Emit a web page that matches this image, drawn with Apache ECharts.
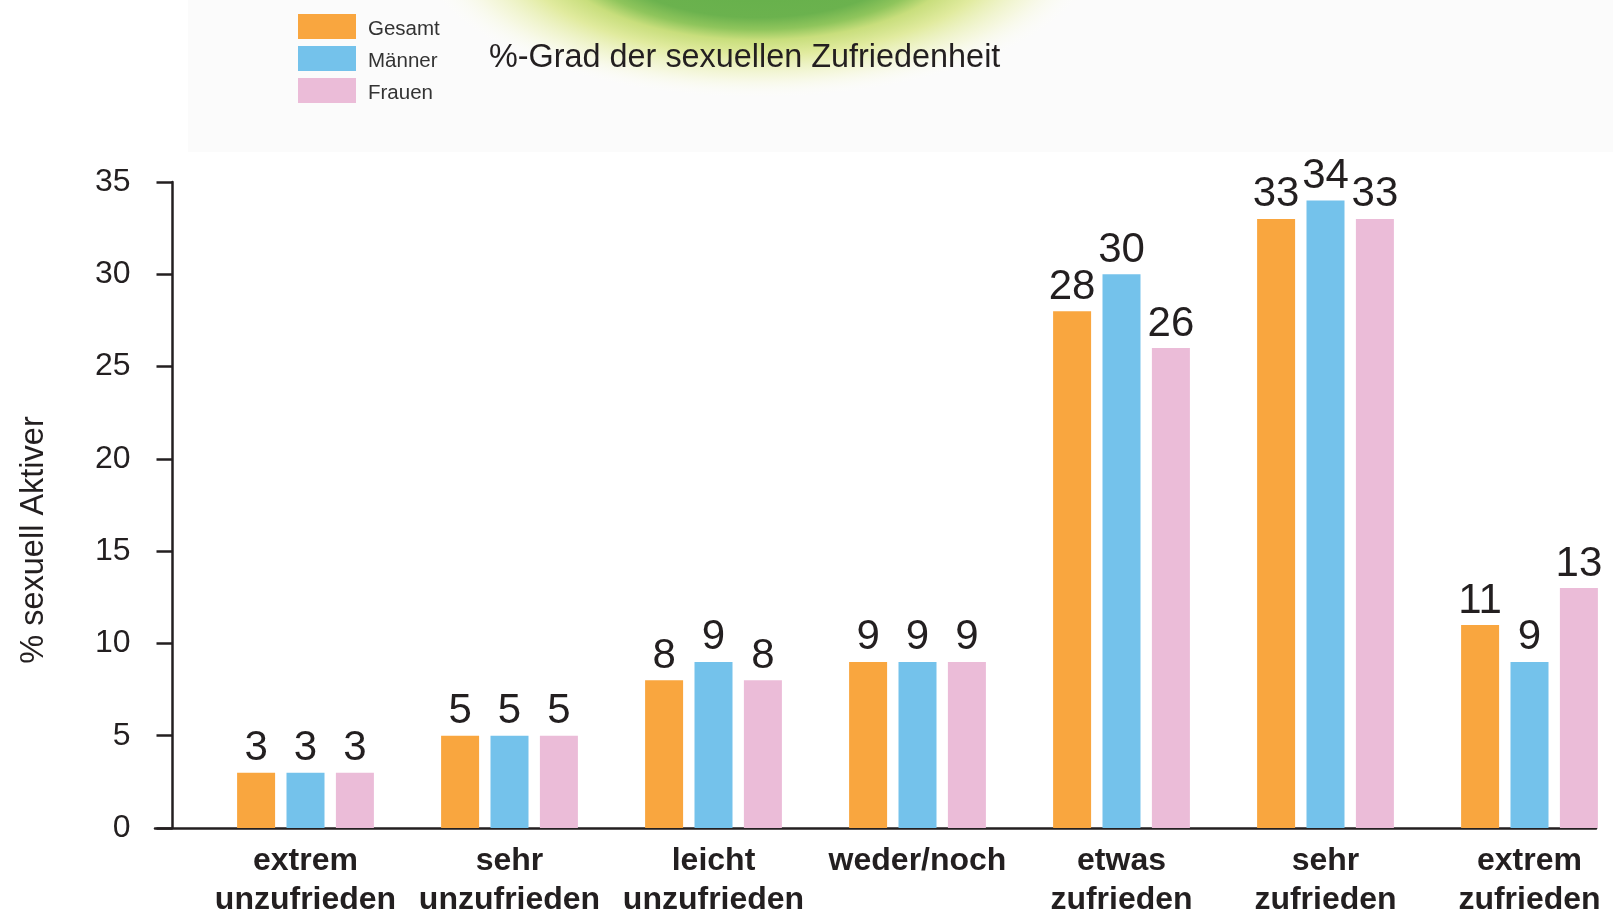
<!DOCTYPE html>
<html>
<head>
<meta charset="utf-8">
<script src="https://cdn.jsdelivr.net/npm/echarts@6/dist/echarts.min.js"></script>
<style>
html,body{margin:0;padding:0;background:#fff;}
#chart{width:1613px;height:913px;}
</style>
</head>
<body>
<div id="chart"></div>
<script>
const categories = ['extrem\nunzufrieden', 'sehr\nunzufrieden', 'leicht\nunzufrieden', 'weder/noch', 'etwas\nzufrieden', 'sehr\nzufrieden', 'extrem\nzufrieden'];
const gesamt = [3, 5, 8, 9, 28, 33, 11];
const maenner = [3, 5, 9, 9, 30, 34, 9];
const frauen = [3, 5, 8, 9, 26, 33, 13];
const seriesNames = ['Gesamt', 'Männer', 'Frauen'];
const titleText = '%-Grad der sexuellen Zufriedenheit';
const yName = '% sexuell Aktiver';

const FONT = '"Liberation Sans", Arial, Helvetica, sans-serif';
const INK = '#231f20';
const colors = ['#f9a63f', '#74c2eb', '#ebbcd8'];

const chart = echarts.init(document.getElementById('chart'));

const labelCfg = {
  show: true, position: 'top', distance: 3,
  fontFamily: FONT, fontSize: 42, color: INK
};

chart.setOption({
  animation: false,
  backgroundColor: '#ffffff',
  color: colors,
  graphic: [
    { type: 'rect', z: -10, silent: true,
      shape: { x: 188, y: 0, width: 1425, height: 152 },
      style: { fill: '#fbfbfb' } },
    { type: 'circle', z: -9, silent: true,
      x: 758, y: -50, scaleX: 2.3, scaleY: 1,
      shape: { cx: 0, cy: 0, r: 150 },
      style: { fill: {
        type: 'radial', x: 0.5, y: 0.5, r: 0.5,
        colorStops: [
          { offset: 0, color: '#5fae47' },
          { offset: 0.45, color: '#6bb24e' },
          { offset: 0.53, color: '#8fc55c' },
          { offset: 0.6, color: '#c8de7c' },
          { offset: 0.7, color: '#e1eb9f' },
          { offset: 0.85, color: 'rgba(243,246,212,0.7)' },
          { offset: 1, color: 'rgba(255,255,255,0)' }
        ] } } }
  ],
  title: {
    text: titleText, left: 489, top: 42, padding: 0,
    textStyle: { fontFamily: FONT, fontSize: 32.4, fontWeight: 'normal', color: INK }
  },
  legend: {
    orient: 'vertical', left: 298, top: 14, padding: 0,
    itemWidth: 58, itemHeight: 25, itemGap: 6.5,
    icon: 'rect',
    formatter: '{t|{name}}',
    textStyle: { fontFamily: FONT, fontSize: 20.5, color: '#333',
      rich: { t: { fontFamily: FONT, fontSize: 20.5, color: '#333', padding: [5, 0, 0, 7] } } },
    data: seriesNames
  },
  grid: [
    { left: 203.5, width: 1428, top: 182, bottom: 85, containLabel: false, outerBoundsMode: 'none' },
    { left: 155, right: 17, top: 182, bottom: 85, containLabel: false, outerBoundsMode: 'none' }
  ],
  xAxis: [
    { type: 'category', gridIndex: 0, data: categories,
      axisLine: { show: false }, axisTick: { show: false },
      axisLabel: { interval: 0, margin: 14, fontFamily: FONT, fontSize: 32, fontWeight: 'bold',
        color: INK, lineHeight: 39 } },
    { type: 'value', gridIndex: 1, min: 0, max: 1,
      axisLine: { show: true, onZero: false, lineStyle: { color: INK, width: 2.5 } },
      axisTick: { show: false }, axisLabel: { show: false }, splitLine: { show: false } }
  ],
  yAxis: [
    { type: 'value', gridIndex: 0, min: 0, max: 35, interval: 5, offset: 31,
      name: yName, nameLocation: 'middle', nameRotate: 90, nameGap: 122,
      nameTextStyle: { fontFamily: FONT, fontSize: 32.5, color: INK, padding: [0, 70, 0, 0] },
      axisLine: { show: true, lineStyle: { color: INK, width: 2.5 } },
      axisTick: { show: true, length: 16, lineStyle: { color: INK, width: 2.5 } },
      axisLabel: { margin: 42, fontFamily: FONT, fontSize: 32, color: INK },
      splitLine: { show: false } },
    { type: 'value', gridIndex: 1, min: 0, max: 35, show: false }
  ],
  series: [
    { name: seriesNames[0], type: 'bar', xAxisIndex: 0, yAxisIndex: 0, data: gesamt,
      barWidth: 38, barGap: '30%', label: labelCfg },
    { name: seriesNames[1], type: 'bar', xAxisIndex: 0, yAxisIndex: 0, data: maenner,
      barWidth: 38, barGap: '30%', label: labelCfg },
    { name: seriesNames[2], type: 'bar', xAxisIndex: 0, yAxisIndex: 0, data: frauen,
      barWidth: 38, barGap: '30%', label: labelCfg }
  ]
});
</script>
</body>
</html>
